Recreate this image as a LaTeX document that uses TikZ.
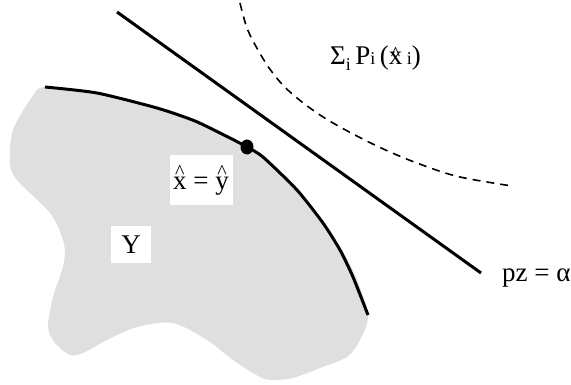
\documentclass[tikz,border=0pt]{standalone}
\usepackage{fontspec}
\setmainfont{Liberation Serif}
\usepackage{tikz}
\usetikzlibrary{positioning, shapes.geometric}

%% hat placed above a letter
\newcommand{\hatover}[2]{\leavevmode\setbox0\hbox{#2}%
  \rlap{\hbox to\wd0{\hss\raisebox{#1}{\fontsize{20}{22}\selectfont\textasciicircum}\hss}}\box0}

\begin{document}
\begin{tikzpicture}[
  x=1pt, y=-1pt,
  font=\fontsize{27}{31}\selectfont,
  every node/.style={align=center},
  boundary/.style={line width=3pt, line join=round},
  label box/.style={fill=white, inner sep=0pt}
]

%% Parameters
\def\W{571}  % picture width
\def\H{385}  % picture height
\useasboundingbox (0,0) rectangle (\W,\H);

%% ---- Set Y (gray region) ----
\fill[gray!25] plot[smooth cycle, tension=0.5] coordinates {
  (45,87) (97,93) (157,108) (195,121) (230,138) (263,157) (297,190)
  (323,223) (342,250) (356,277) (368,315) (360,340) (347,357) (320,368)
  (293,378) (273,380) (260,377) (233,360) (207,340) (173,323) (137,327)
  (107,340) (83,353) (70,355) (55,343) (48,327) (53,297) (62,270)
  (65,253) (62,237) (50,213) (17,180) (10,163) (13,130) (32,97)};

%% ---- Boundary of Y ----
\draw[boundary] plot[smooth, tension=0.4] coordinates {
  (45,87) (97,93) (157,108) (195,121) (230,138) (247,147) (263,157)
  (297,190) (323,223) (340,250) (353,277) (368,315)};

%% ---- Supporting hyperplane ----
\coordinate (planetop) at (117,12);
\coordinate (planeend) at (481,273);
\draw[line width=3pt] (planetop) -- (planeend);

%% ---- Level curve (dashed) ----
\draw[line width=1.6pt, dash pattern=on 8pt off 6pt] plot[smooth, tension=0.6] coordinates {
  (240,3) (247,28) (258,50) (272,72) (290,92) (320,115) (355,135)
  (390,152) (425,166) (460,177) (512,186)};

%% ---- Tangent point ----
\node[fill, ellipse, inner sep=0pt, minimum width=13pt, minimum height=15pt]
  (tangent) at (247,147) {};

%% ---- Labels ----
\node[label box, minimum width=63pt, minimum height=50pt] (xeqy) at (201,180)
  {\hatover{11pt}{x}\ =\ \hatover{11pt}{y}};
\node[label box, minimum width=40pt, minimum height=37pt] (setY) at (131,245) {Y};
\node[anchor=base west, inner sep=0pt] (sumlabel) at (330,65)
  {Σ\raisebox{-6pt}{\fontsize{18}{20}\selectfont i}\,P{\fontsize{18}{20}\selectfont i}\,(\hatover{4pt}{x}\,{\fontsize{18}{20}\selectfont i})};
\node[anchor=base west, inner sep=0pt] (planelabel) at (502,282) {pz = α};

\end{tikzpicture}
\end{document}
